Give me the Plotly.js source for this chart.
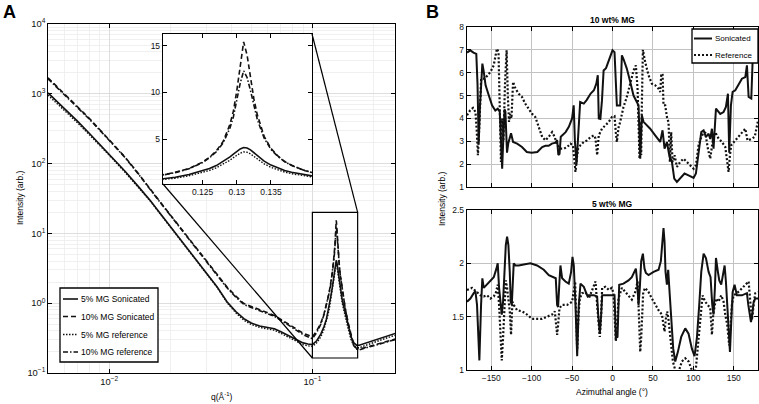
<!DOCTYPE html>
<html>
<head>
<meta charset="utf-8">
<script src="https://cdn.plot.ly/plotly-3.0.1.min.js"></script>
<style>
  html, body { margin: 0; padding: 0; background: #fff; }
  #chart { width: 759px; height: 404px; }
</style>
</head>
<body>
<div id="chart"></div>
<script>
// ---------- Panel A: scattered intensity vs q ----------
const q = [0.005, 0.006, 0.007, 0.008, 0.009, 0.010, 0.012, 0.014, 0.016, 0.018,
           0.020, 0.023, 0.026, 0.030, 0.034, 0.038, 0.042, 0.046, 0.050, 0.055,
           0.060, 0.065, 0.070, 0.075, 0.080, 0.085, 0.090, 0.095, 0.100, 0.105,
           0.110, 0.114, 0.117, 0.119, 0.121, 0.123, 0.125, 0.126, 0.127, 0.128,
           0.129, 0.1295, 0.130, 0.1305, 0.131, 0.1315, 0.132, 0.1325, 0.133, 0.134,
           0.135, 0.136, 0.137, 0.138, 0.140, 0.142, 0.145, 0.150, 0.155, 0.160,
           0.165, 0.170, 0.180, 0.190, 0.200, 0.215, 0.230, 0.245, 0.260];

const iSon5 = [1030, 622, 403, 270, 189, 137, 77, 46, 29.2, 18.6,
               12.5, 7.45, 4.78, 2.77, 1.71, 1.05, 0.76, 0.60, 0.52, 0.47,
               0.45, 0.43, 0.39, 0.35, 0.32, 0.29, 0.27, 0.26, 0.255, 0.29,
               0.36, 0.46, 0.58, 0.74, 0.92, 1.22, 1.6, 1.85, 2.17, 2.6,
               3.1, 3.4, 3.72, 3.95, 4.1, 4.05, 3.85, 3.55, 3.2, 2.65,
               2.22, 1.9, 1.65, 1.45, 1.15, 0.95, 0.72, 0.48, 0.33, 0.27,
               0.25, 0.25, 0.265, 0.28, 0.295, 0.315, 0.335, 0.355, 0.375];

const iSon10 = [1700, 1020, 661, 441, 306, 221, 123, 70.3, 41.8, 27.2,
                18.4, 11.0, 7.1, 4.18, 2.62, 1.71, 1.26, 0.99, 0.90, 0.80,
                0.73, 0.667, 0.585, 0.52, 0.46, 0.41, 0.372, 0.35, 0.33, 0.40,
                0.52, 0.70, 0.92, 1.15, 1.45, 1.85, 2.55, 3.05, 3.75, 4.75,
                6.6, 8.0, 10.2, 13.0, 15.4, 14.0, 11.6, 9.3, 7.6, 5.3,
                4.0, 3.2, 2.6, 2.2, 1.62, 1.25, 0.85, 0.52, 0.34, 0.25,
                0.225, 0.22, 0.23, 0.24, 0.25, 0.265, 0.28, 0.295, 0.31];

const iRef5 = [960, 585, 382, 258, 182, 132, 74.5, 44.8, 28.6, 18.3,
               12.3, 7.35, 4.72, 2.73, 1.68, 1.02, 0.73, 0.57, 0.495, 0.45,
               0.43, 0.41, 0.37, 0.335, 0.305, 0.275, 0.255, 0.245, 0.24, 0.27,
               0.33, 0.42, 0.53, 0.66, 0.82, 1.08, 1.42, 1.65, 1.93, 2.3,
               2.75, 3.02, 3.3, 3.5, 3.64, 3.6, 3.42, 3.16, 2.85, 2.36,
               1.98, 1.7, 1.48, 1.3, 1.03, 0.85, 0.64, 0.43, 0.30, 0.245,
               0.23, 0.23, 0.245, 0.26, 0.275, 0.295, 0.315, 0.335, 0.35];

const iRef10 = [1640, 990, 645, 432, 300, 217, 121, 69.3, 41.2, 26.8,
                18.1, 10.8, 6.95, 4.08, 2.55, 1.66, 1.22, 0.96, 0.87, 0.78,
                0.71, 0.65, 0.57, 0.505, 0.445, 0.395, 0.355, 0.33, 0.31, 0.38,
                0.50, 0.68, 0.90, 1.13, 1.42, 1.82, 2.5, 3.0, 3.65, 4.6,
                6.2, 7.4, 9.2, 11.0, 12.3, 11.6, 10.2, 8.5, 7.1, 5.1,
                3.9, 3.15, 2.6, 2.2, 1.62, 1.25, 0.85, 0.51, 0.33, 0.245,
                0.22, 0.215, 0.225, 0.235, 0.245, 0.26, 0.275, 0.29, 0.305];

const namesA = ['5% MG Sonicated', '10% MG Sonicated', '5% MG reference', '10% MG reference'];

// magnified window of the main plot, shown in the inset
const zoomQ = [0.1, 0.167];
const zoomI = [0.164, 20];
const insetQRange = [0.1192, 0.141];
const insetIRange = [0.2, 16.25];
const insetTicksX = [0.125, 0.13, 0.135];
const insetTicksY = [5, 10, 15];
const powerLabels = { '1': '10<sup>0</sup>', '10': '10<sup>1</sup>' };

// ---------- Panel B: azimuthal intensity profiles ----------
const angTop10Son = [-180, -176, -172, -168.5, -167, -165.5, -164, -161, -159.5, -157,
  -153, -149, -145, -142, -139.5, -138, -136.5, -135, -133.5, -132.5,
  -130.5, -129, -127, -125.5, -123, -118, -112, -106, -100, -93,
  -87, -83, -79, -75, -70.5, -68.5, -67, -65.5, -64, -62,
  -58, -54, -50, -48, -46.5, -44.5, -42.5, -40, -35.5, -32,
  -27, -23, -20, -18.2, -17, -15, -13, -11, -8, -5,
  -2, 0, 2.5, 5.4, 9.5, 11.6, 13.6, 17.7, 21.9, 26,
  30.1, 32.2, 34.3, 36.3, 38.4, 42.5, 46.6, 52.8, 59, 61.9,
  64.4, 67.3, 70.2, 73.5, 76.4, 79.7, 83.8, 89.1, 94.1, 100.3,
  103.2, 106.5, 109.8, 112.7, 115.6, 118.9, 120.9, 123, 125, 128,
  133.3, 137.4, 140.3, 142.8, 144.4, 146.5, 148.6, 151.9, 156.8, 160.1,
  164.3, 166.3, 168.4, 171.7, 173.3, 176.6, 180];
const valTop10Son = [6.88, 6.98, 6.88, 6.82, 5.5, 2.9, 4.5, 6.4, 6.1, 5.45,
  5.0, 4.57, 4.35, 4.43, 4.3, 3.2, 1.8, 3.2, 4.4, 4.3,
  2.5, 2.9, 3.2, 3.35, 2.97, 2.9, 2.75, 2.53, 2.5, 2.53,
  2.75, 2.8, 2.8, 2.9, 2.94, 3.05, 2.4, 2.45, 3.2, 3.26,
  3.4, 3.63, 4.0, 4.57, 3.0, 2.0, 3.5, 4.72, 4.65, 4.8,
  5.09, 5.23, 5.52, 5.89, 4.0, 3.98, 4.8, 6.1, 6.2, 6.5,
  6.85, 6.98, 6.9, 4.57, 4.57, 6.76, 6.6, 6.18, 5.6, 5.0,
  4.72, 4.57, 2.24, 4.14, 3.85, 3.7, 3.55, 3.26, 2.97, 3.48,
  2.68, 2.97, 2.39, 2.1, 1.37, 1.22, 1.37, 1.59, 1.51, 1.4,
  1.59, 2.39, 3.4, 3.48, 3.19, 3.33, 3.1, 3.55, 2.68, 4.43,
  4.2, 4.28, 4.5, 5.08, 2.5, 4.57, 5.16, 5.23, 5.52, 5.74,
  5.81, 6.32, 4.94, 4.87, 6.47, 6.83, 6.98];

const angTop10Ref = [-180, -176, -172.5, -169.5, -168, -166.5, -165, -162.5, -158, -151,
  -147, -143, -141, -139.5, -138, -136.5, -135, -133, -131, -129.5,
  -128, -126.5, -125, -123, -120, -116, -112, -108, -104, -99.5,
  -95.5, -91, -87, -83, -79, -74.7, -71.5, -68.5, -64.5, -60,
  -56, -52, -49, -47.5, -45.8, -44, -42.5, -39.6, -35.5, -31.5,
  -27, -23, -21, -19, -17, -13, -8.7, -4.5, -0.8, 2.5,
  4.1, 5.4, 7.5, 9.5, 13.6, 17.7, 21.9, 26, 28.9, 31,
  32.2, 33.4, 34.7, 35.5, 36.3, 37.6, 40.4, 44.6, 48.7, 52.8,
  57, 59, 60.3, 61.9, 63.1, 65.2, 67.7, 69.3, 71, 72.6,
  74.3, 76.8, 79.7, 83.8, 87.9, 92, 96.2, 100.3, 103.2, 106.5,
  110.6, 114.7, 118, 120.9, 123.8, 127.1, 131.2, 135.4, 139.5, 142,
  143.6, 145.3, 146.9, 151.9, 156.8, 160.1, 164.3, 167, 172, 176,
  178, 180];
const valTop10Ref = [4.14, 4.36, 4.46, 4.28, 3.5, 2.39, 3.5, 5.74, 5.74, 6.03,
  6.32, 7.05, 6.9, 4.5, 2.1, 4.0, 3.0, 5.5, 6.98, 5.0,
  3.85, 4.2, 4.0, 5.6, 5.3, 5.08, 4.94, 4.65, 4.43, 4.2,
  4.06, 3.55, 3.19, 3.04, 3.19, 3.4, 3.19, 2.83, 2.68, 2.68,
  2.75, 2.9, 2.83, 2.3, 1.66, 2.3, 2.68, 2.83, 2.97, 3.04,
  3.19, 3.26, 3.12, 2.39, 3.26, 3.55, 3.7, 3.85, 4.06, 4.1,
  3.4, 2.97, 3.6, 3.85, 4.5, 4.94, 5.52, 6.1, 6.32, 5.3,
  3.85, 2.24, 3.85, 2.4, 4.57, 7.0, 6.47, 5.89, 5.52, 5.45,
  5.3, 5.16, 5.9, 5.96, 4.57, 4.57, 3.99, 3.85, 2.1, 3.4,
  2.1, 2.39, 1.88, 2.1, 2.24, 2.1, 1.95, 1.8, 1.95, 2.83,
  3.26, 3.4, 2.68, 2.24, 2.97, 3.4, 3.12, 2.97, 2.75, 2.1,
  1.66, 2.39, 2.83, 3.04, 3.26, 3.4, 3.55, 3.04, 3.1, 3.2,
  3.6, 3.9];

const ang5Son = [-180, -175.8, -171.7, -169.6, -167.6, -164.7, -162.6, -161, -159.3, -155.2,
  -151, -146.9, -143.6, -142, -140.3, -138.3, -137, -135.4, -133.7, -132,
  -130.4, -128.8, -127.1, -125.9, -124.6, -123.4, -122.2, -120.1, -116, -109.8,
  -101.5, -93.3, -85, -78.8, -72.6, -70.2, -68.5, -67.3, -65.6, -64.4,
  -62.3, -58.2, -54.1, -51.2, -49.5, -47.9, -45.8, -43.7, -41.7, -39.6,
  -35.5, -31.4, -23.1, -19, -17.7, -15.7, -14, -12.8, -6.6, 0,
  2.5, 3.3, 4.1, 6.2, 7.4, 8.3, 13.6, 19.8, 23.9, 27.2,
  28.9, 30.5, 32.2, 33.8, 35.5, 37.6, 39.6, 41.3, 44.6, 50.8,
  57, 59.8, 61.9, 63.1, 64.4, 65.6, 67.3, 68.9, 70.6, 72.6,
  75.1, 77.6, 80.9, 85, 90, 94.1, 98.2, 101.5, 104.4, 107.3,
  109.8, 112.7, 115.6, 118.9, 121.3, 123.4, 125, 126.7, 128, 130.4,
  132.1, 134.5, 137, 138.7, 140.3, 142.8, 145.3, 147.3, 148.6, 151,
  153.9, 160.1, 166.3, 168, 169.2, 171.3, 172.9, 174.6, 176.6, 180];
const val5Son = [1.64, 1.67, 1.72, 1.74, 1.61, 1.09, 1.61, 1.86, 1.77, 1.80,
  1.84, 1.87, 1.95, 2.0, 1.77, 1.64, 1.52, 1.64, 1.92, 2.17,
  2.25, 2.17, 1.92, 1.64, 1.61, 1.86, 2.0, 1.98, 1.98, 1.99,
  2.0, 1.98, 1.94, 1.89, 1.87, 1.86, 1.61, 1.59, 1.83, 1.98,
  1.86, 1.83, 1.81, 1.92, 2.06, 1.98, 1.61, 1.13, 1.61, 1.81,
  1.78, 1.70, 1.70, 1.69, 1.52, 1.34, 1.52, 1.70, 1.70, 1.70,
  1.70, 1.52, 1.30, 1.31, 1.61, 1.80, 1.81, 1.84, 1.87, 1.92,
  1.95, 1.83, 1.61, 1.77, 2.02, 2.09, 1.95, 1.91, 1.89, 1.92,
  1.94, 2.02, 2.2, 2.33, 2.2, 1.92, 1.80, 1.94, 1.73, 1.45,
  1.20, 1.08, 1.17, 1.31, 1.39, 1.34, 1.20, 1.13, 1.30, 1.61,
  1.92, 2.09, 2.05, 1.92, 1.87, 1.61, 1.52, 1.77, 2.05, 1.92,
  1.84, 1.80, 1.92, 1.98, 1.83, 1.48, 1.17, 1.52, 1.73, 1.80,
  1.70, 1.70, 1.72, 1.61, 1.53, 1.45, 1.52, 1.64, 1.67, 1.67];

const ang5Ref = [-180, -173.8, -167.6, -163.4, -159.3, -155.2, -151, -146.9, -144.4, -142,
  -140.3, -138.7, -137, -135.4, -133.7, -132, -130.4, -128.8, -127.1, -125.5,
  -123.8, -122.2, -118, -111.8, -105.7, -99.5, -93.3, -87.1, -80.9, -74.7,
  -71.4, -69.7, -68.5, -67.3, -65.6, -62.3, -56.1, -49.9, -47.9, -46.2,
  -45, -43.7, -42.1, -40.4, -37.6, -33.4, -29.3, -26.4, -23.1, -21,
  -19, -17.3, -15.7, -14, -12.8, -8.7, -4.5, -0.8, 1.2, 2.5,
  4.1, 5.8, 7.4, 11.6, 17.7, 23.9, 28.1, 31, 32.2, 33.4,
  34.3, 35.5, 36.7, 38, 40.4, 44.6, 48.7, 52.8, 57, 61.1,
  63.1, 64.4, 66, 67.7, 69.3, 71, 72.6, 74.7, 77.6, 79.7,
  82.5, 85.8, 90, 94.1, 98.2, 100.7, 103.2, 105.7, 108.5, 111.4,
  114.7, 118, 120.9, 123, 124.6, 128, 131.2, 134.5, 137.4, 139.5,
  142, 144.4, 146.1, 147.7, 149.8, 153.9, 158.1, 162.2, 166.3, 168.4,
  170.5, 172.5, 174.6, 176.6, 180];
const val5Ref = [1.75, 1.77, 1.73, 1.70, 1.69, 1.70, 1.67, 1.69, 1.72, 1.80,
  1.61, 1.30, 1.09, 1.30, 1.67, 1.84, 1.77, 1.64, 1.55, 1.33,
  1.64, 1.61, 1.56, 1.55, 1.52, 1.48, 1.48, 1.48, 1.50, 1.52,
  1.55, 1.42, 1.33, 1.42, 1.58, 1.61, 1.61, 1.64, 1.73, 1.83,
  1.52, 1.19, 1.52, 1.67, 1.72, 1.73, 1.67, 1.72, 1.78, 1.83,
  1.61, 1.42, 1.31, 1.52, 1.77, 1.78, 1.75, 1.77, 1.72, 1.52,
  1.27, 1.45, 1.67, 1.77, 1.72, 1.66, 1.73, 1.83, 1.61, 1.30,
  1.17, 1.30, 1.61, 1.73, 1.77, 1.73, 1.67, 1.61, 1.56, 1.52,
  1.42, 1.36, 1.48, 1.55, 1.47, 1.33, 1.23, 1.08, 1.0, 0.95,
  1.0, 1.08, 1.11, 1.08, 1.0, 0.95, 1.02, 1.23, 1.52, 1.70,
  1.64, 1.61, 1.58, 1.33, 1.52, 1.67, 1.64, 1.70, 1.64, 1.52,
  1.42, 1.23, 1.42, 1.61, 1.70, 1.72, 1.75, 1.78, 1.81, 1.83,
  1.64, 1.47, 1.61, 1.72, 1.73];

const namesB = ['Sonicated', 'Reference'];

// ---------- page geometry ----------
const W = 759, H = 404;
const FONT = 'Liberation Sans, Arial, Helvetica, sans-serif';
const domX = (left, right) => [left / W, right / W];
const domY = (top, bottom) => [1 - bottom / H, 1 - top / H];
const px = v => v / W;
const py = v => 1 - v / H;

const INK = '#111';
const styleA = [
  { color: INK, width: 1.6, dash: 'solid' },
  { color: INK, width: 1.6, dash: '5px,3px' },
  { color: INK, width: 1.4, dash: '1.5px,1.5px' },
  { color: INK, width: 1.6, dash: '5px,2px,1.5px,2px' }
];
const seriesA = [iSon5, iSon10, iRef5, iRef10];
const solidB = { color: INK, width: 2, dash: 'solid' };
const dotB = { color: INK, width: 2.2, dash: '2px,2px' };

const traces = [];
seriesA.forEach((vals, k) => {
  traces.push({ type: 'scatter', mode: 'lines', x: q, y: vals, name: namesA[k],
    xaxis: 'x', yaxis: 'y', line: styleA[k] });
});
seriesA.forEach((vals, k) => {
  traces.push({ type: 'scatter', mode: 'lines', x: q, y: vals, name: namesA[k],
    xaxis: 'x2', yaxis: 'y2', line: styleA[k] });
});
traces.push({ type: 'scatter', mode: 'lines', x: angTop10Son, y: valTop10Son, name: namesB[0],
  xaxis: 'x3', yaxis: 'y3', line: solidB });
traces.push({ type: 'scatter', mode: 'lines', x: angTop10Ref, y: valTop10Ref, name: namesB[1],
  xaxis: 'x3', yaxis: 'y3', line: dotB });
traces.push({ type: 'scatter', mode: 'lines', x: ang5Son, y: val5Son, name: namesB[0],
  xaxis: 'x4', yaxis: 'y4', line: solidB });
traces.push({ type: 'scatter', mode: 'lines', x: ang5Ref, y: val5Ref, name: namesB[1],
  xaxis: 'x4', yaxis: 'y4', line: dotB });

const frame = {
  showline: true, linecolor: '#000', linewidth: 1.2, mirror: 'ticks',
  ticks: 'inside', ticklen: 4, tickwidth: 1, tickcolor: '#000',
  zeroline: false, fixedrange: true,
  tickfont: { family: FONT, size: 8.5, color: '#111' }
};

const xMain = Object.assign({}, frame, {
  type: 'log', domain: domX(48, 395), anchor: 'y',
  range: [Math.log10(0.005), Math.log10(0.255)],
  dtick: 1, exponentformat: 'power', labelalias: powerLabels,
  tickfont: { family: FONT, size: 7.5, color: '#111' },
  showgrid: true, gridcolor: '#d6d6d6', gridwidth: 0.8,
  minor: { dtick: 'D1', showgrid: true, gridcolor: '#e9e9e9', gridwidth: 0.7 }
});
const yMain = Object.assign({}, frame, {
  type: 'log', domain: domY(24, 373), anchor: 'x',
  range: [-1, 4], dtick: 1, exponentformat: 'power', labelalias: powerLabels,
  tickfont: { family: FONT, size: 7.5, color: '#111' },
  showgrid: true, gridcolor: '#d6d6d6', gridwidth: 0.8,
  minor: { dtick: 'D1', showgrid: true, gridcolor: '#e9e9e9', gridwidth: 0.7 }
});
const xInset = Object.assign({}, frame, {
  domain: domX(163, 312), anchor: 'y2', range: insetQRange,
  tickmode: 'array', tickvals: insetTicksX, showgrid: false
});
const yInset = Object.assign({}, frame, {
  domain: domY(34, 184), anchor: 'x2', range: insetIRange,
  tickmode: 'array', tickvals: insetTicksY, showgrid: false
});
const gridB = { showgrid: true, gridcolor: '#c2c2c2', gridwidth: 1 };
const xTop = Object.assign({}, frame, gridB, {
  domain: domX(467, 758), anchor: 'y3', range: [-180, 180],
  dtick: 50, tick0: 0, showticklabels: false
});
const yTop = Object.assign({}, frame, gridB, {
  domain: domY(27, 187), anchor: 'x3', range: [1, 8], dtick: 1
});
const xBot = Object.assign({}, frame, gridB, {
  domain: domX(467, 758), anchor: 'y4', range: [-180, 180], dtick: 50, tick0: 0
});
const yBot = Object.assign({}, frame, gridB, {
  domain: domY(210, 370), anchor: 'x4', range: [1, 2.5], dtick: 0.5
});

// data value -> paper fraction on a given axis
function toPaper(axis, v) {
  const t = axis.type === 'log' ? Math.log10(v) : v;
  const r = axis.range, d = axis.domain;
  return d[0] + (t - r[0]) / (r[1] - r[0]) * (d[1] - d[0]);
}
const bx0 = toPaper(xMain, zoomQ[0]), bx1 = toPaper(xMain, zoomQ[1]);
const by0 = toPaper(yMain, zoomI[0]), by1 = toPaper(yMain, zoomI[1]);
const ix0 = xInset.domain[0], ix1 = xInset.domain[1];
const iy0 = yInset.domain[0], iy1 = yInset.domain[1];

const edge = { color: '#000', width: 1.2 };
const shapes = [
  // opaque backdrop for the inset so the main grid does not show through
  { type: 'rect', xref: 'x2', yref: 'y2', layer: 'below',
    x0: insetQRange[0], x1: insetQRange[1], y0: insetIRange[0], y1: insetIRange[1],
    fillcolor: '#fff', line: { width: 0 } },
  { type: 'rect', xref: 'paper', yref: 'paper', layer: 'above',
    x0: bx0, x1: bx1, y0: by0, y1: by1, line: edge },
  { type: 'line', xref: 'paper', yref: 'paper', layer: 'above',
    x0: ix0, y0: iy0, x1: bx0, y1: by0, line: edge },
  { type: 'line', xref: 'paper', yref: 'paper', layer: 'above',
    x0: ix1, y0: iy1, x1: bx1, y1: by1, line: edge }
];

function note(text, x, y, size, extra) {
  return Object.assign({
    text: text, xref: 'paper', yref: 'paper', x: px(x), y: py(y),
    xanchor: 'center', yanchor: 'middle', showarrow: false,
    font: { family: FONT, size: size, color: '#000' }
  }, extra || {});
}
const annotations = [
  note('<b>A</b>', 9.5, 12, 18),
  note('<b>B</b>', 432, 12, 18),
  note('Intensity (arb.)', 20, 198, 8.5, { textangle: -90 }),
  note('q(Å<sup>-1</sup>)', 221.5, 396, 8.5),
  note('<b>10 wt% MG</b>', 612, 20, 8.5),
  note('<b>5 wt% MG</b>', 612, 204, 8.5),
  note('Intensity (arb.)', 442, 199, 8.5, { textangle: -90 }),
  note('Azimuthal angle (°)', 612, 392, 8.5)
];

// boxed keys in the MATLAB style: frame, line sample, label
function addKey(box, rows, names, styles, sample, fontSize) {
  shapes.push({ type: 'rect', xref: 'paper', yref: 'paper', layer: 'above',
    x0: px(box[0]), x1: px(box[2]), y0: py(box[3]), y1: py(box[1]),
    fillcolor: '#fff', line: { color: '#000', width: 1.3 } });
  rows.forEach((rowY, k) => {
    shapes.push({ type: 'line', xref: 'paper', yref: 'paper', layer: 'above',
      x0: px(sample[0]), x1: px(sample[1]), y0: py(rowY), y1: py(rowY), line: styles[k] });
    annotations.push(note(names[k], sample[1] + 1, rowY, fontSize, { xanchor: 'left' }));
  });
}
addKey([60, 288, 158, 362], [299, 316.5, 334.5, 352], namesA, styleA, [63, 78], 8.5);
addKey([692, 29, 758, 63], [38.5, 55], namesB, [solidB, dotB], [694, 712], 8);

const layout = {
  width: W, height: H,
  margin: { l: 0, r: 0, t: 0, b: 0, pad: 0 },
  paper_bgcolor: '#fff', plot_bgcolor: '#fff',
  showlegend: false,
  xaxis: xMain, yaxis: yMain,
  xaxis2: xInset, yaxis2: yInset,
  xaxis3: xTop, yaxis3: yTop,
  xaxis4: xBot, yaxis4: yBot,
  shapes: shapes,
  annotations: annotations
};

Plotly.newPlot('chart', traces, layout, { staticPlot: true, displayModeBar: false });
</script>
</body>
</html>
